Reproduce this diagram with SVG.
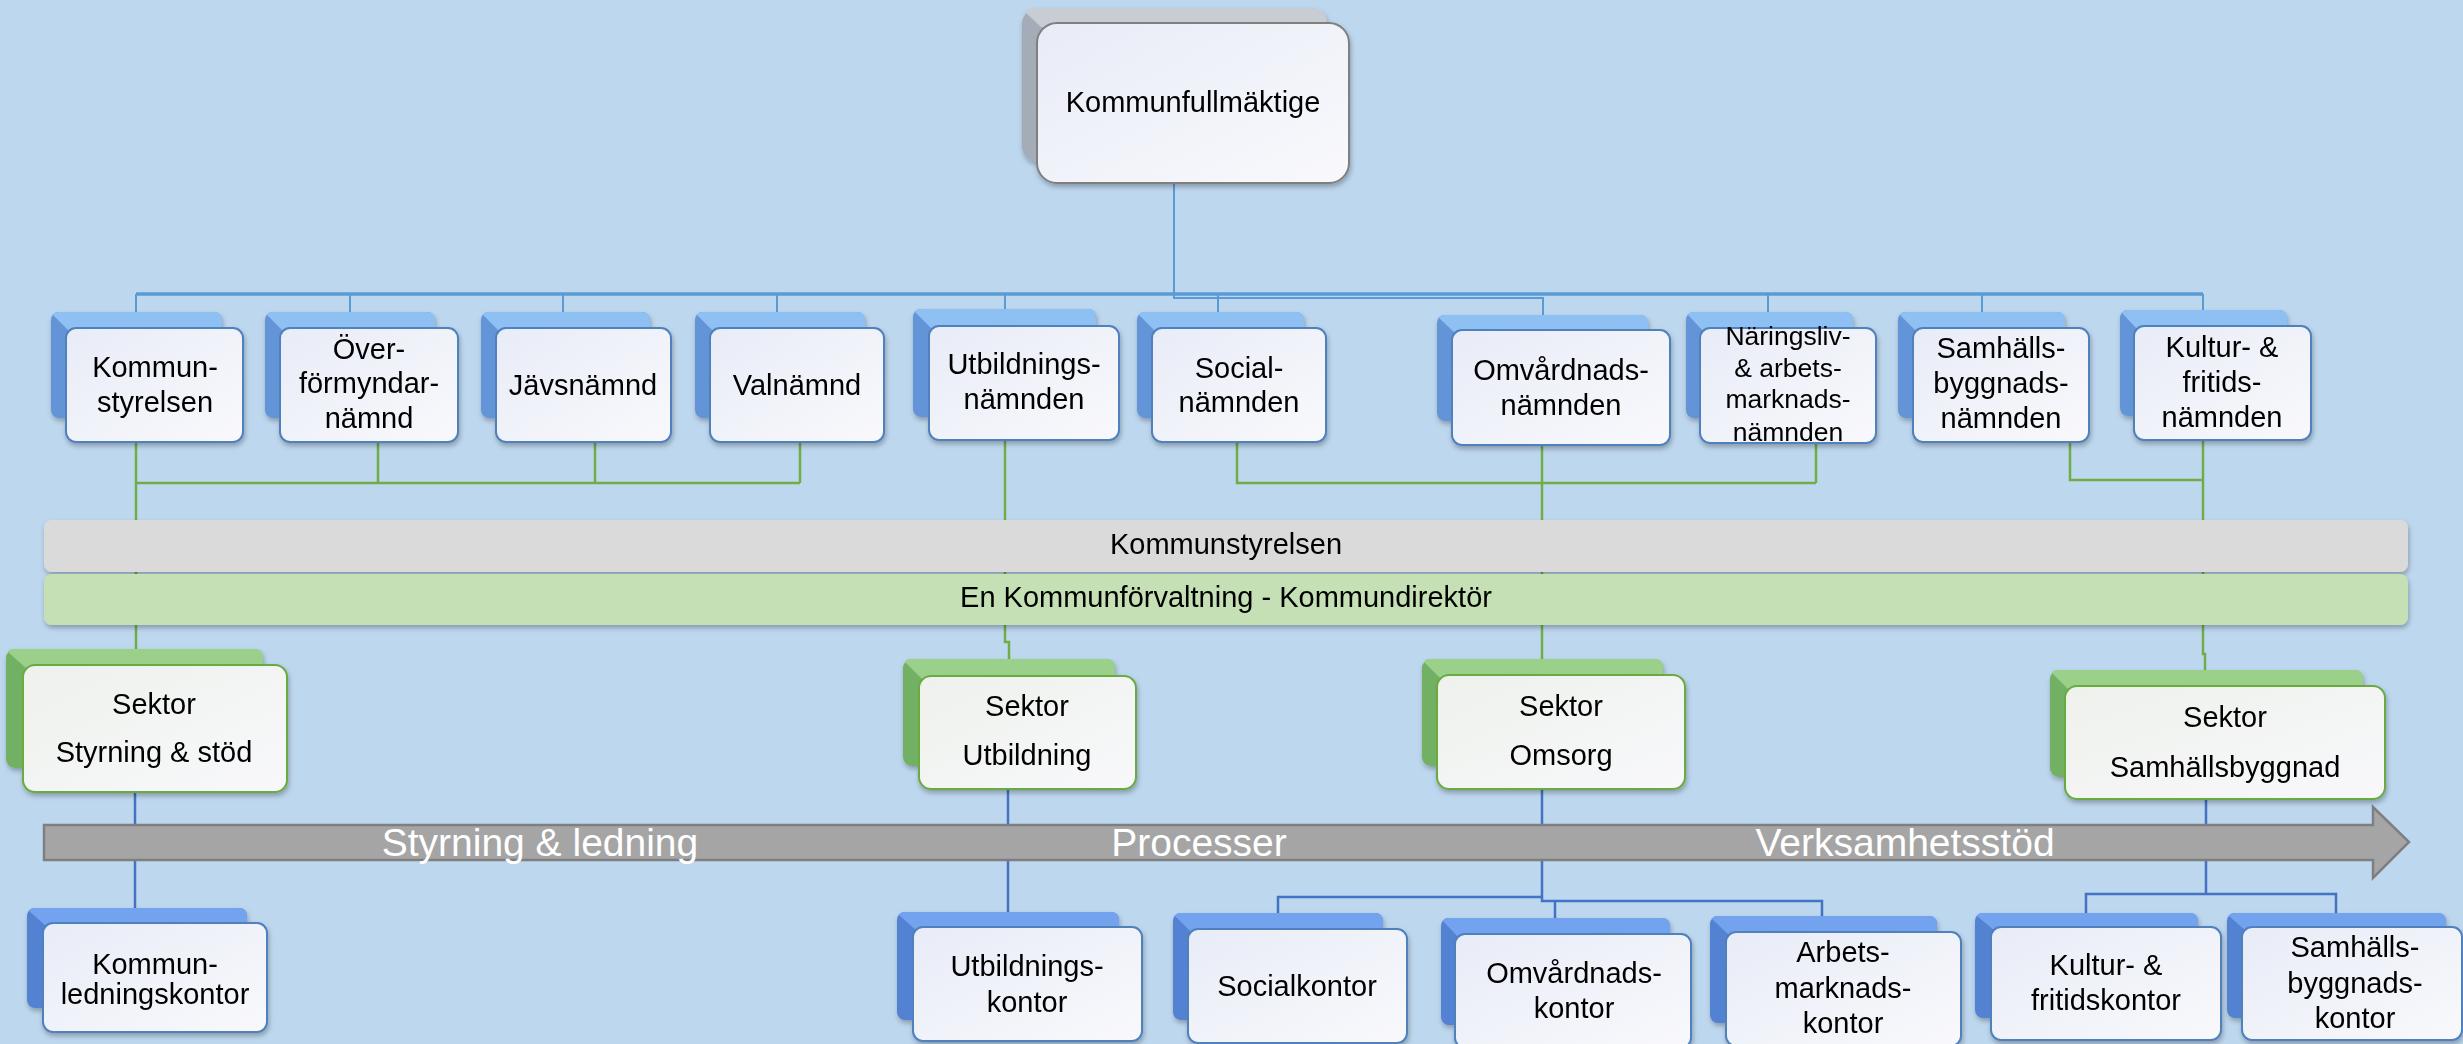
<svg xmlns="http://www.w3.org/2000/svg" width="2463" height="1044" viewBox="0 0 2463 1044">
<defs>
<style>
.t{font-family:"Liberation Sans",Arial,sans-serif;font-size:29px;fill:#000;text-anchor:middle}
.ts{font-size:26.5px}
.ta{font-family:"Liberation Sans",Arial,sans-serif;font-size:39px;fill:#fff;text-anchor:middle}
.cT{fill:none;stroke:#5B9BD5;stroke-width:2}
.cTm{fill:none;stroke:#5B9BD5;stroke-width:3.5}
.cG{fill:none;stroke:#70AD47;stroke-width:2.5}
.cB{fill:none;stroke:#4472C4;stroke-width:2.5}
.bkB{fill:#6394D8}
.bkBt{fill:#8EC0F4}
.bkD{fill:#5382D3}
.bkDt{fill:#73A3EE}
.bkG{fill:#72B163}
.bkGt{fill:#9BD08B}
.bkK{fill:#A4ACB8}
.bkKt{fill:#C8CDD4}
.frB{fill:url(#gF);stroke:#4F81BD;stroke-width:2}
.frG{fill:url(#gS);stroke:#6AAB40;stroke-width:2}
.frK{fill:url(#gF);stroke:#7F7F7F;stroke-width:2}
</style>
<linearGradient id="gF" x1="0" y1="0" x2="1" y2="1">
<stop offset="0" stop-color="#E8ECF7"/><stop offset="1" stop-color="#F9F9FC"/>
</linearGradient>
<linearGradient id="gS" x1="0" y1="0" x2="1" y2="1">
<stop offset="0" stop-color="#EEF1EC"/><stop offset="1" stop-color="#F8F8FB"/>
</linearGradient>
<filter id="sh" x="-10%" y="-10%" width="125%" height="135%">
<feDropShadow dx="1" dy="3" stdDeviation="2.5" flood-color="#000" flood-opacity="0.28"/>
</filter>
</defs>
<rect x="0" y="0" width="2463" height="1044" fill="#BDD7EE"/>

<g id="connectors">
<path class="cT" d="M1174,183 V298 H1543 V315"/>
<path class="cTm" d="M136,294 H2203"/>
<path class="cT" d="M136,294 V312 M350,294 V312 M563,294 V312 M777,294 V312 M1005,294 V309 M1218,294 V312 M1768,294 V312 M1982,294 V312 M2203,294 V310"/>
<path class="cG" d="M136,442 V649"/>
<path class="cG" d="M136,483 H800 M378,442 V483 M595,442 V483 M800,442 V483"/>
<path class="cG" d="M1005,440 V642 H1009 V659"/>
<path class="cG" d="M1237,442 V483 H1816 M1816,443 V483"/>
<path class="cG" d="M1542,445 V659"/>
<path class="cG" d="M2070,442 V480 H2203 M2203,440 V654 H2205 V670"/>
<path class="cB" d="M135,792 V908"/>
<path class="cB" d="M1008,789 V912"/>
<path class="cB" d="M1542,789 V897 H1278 V913 M1542,896 V901 H1822 V916 M1555,901 V918"/>
<path class="cB" d="M2206,799 V894 H2086 V913 M2206,894 H2336 V913"/>
</g>

<g id="bar-kommunstyrelsen" filter="url(#sh)">
<rect x="44" y="520" width="2364" height="52" rx="8" fill="#DADADA"/>
<text class="t" x="1226" y="554">Kommunstyrelsen</text>
</g>
<g id="bar-forvaltning" filter="url(#sh)">
<rect x="44" y="574" width="2364" height="51" rx="8" fill="#C5E0B4"/>
<text class="t" x="1226" y="607">En Kommunförvaltning - Kommundirektör</text>
</g>

<g id="process-arrow">
<polygon points="44,825 2373,825 2373,807 2409,842 2373,878 2373,860 44,860" fill="#A5A5A5" stroke="#7F7F7F" stroke-width="2.5"/>
<text class="ta" x="540" y="856">Styrning &amp; ledning</text>
<text class="ta" x="1199" y="856">Processer</text>
<text class="ta" x="1905" y="856">Verksamhetsstöd</text>
</g>

<g id="n-kommunfullmaktige" filter="url(#sh)">
<rect class="bkK" x="1022" y="8" width="305" height="154" rx="16"/>
<path class="bkKt" d="M1036,8 H1311 Q1327,8 1327,24 V27 H1041 L1025,12 Q1027,8 1036,8 Z"/>
<rect class="frK" x="1037" y="23" width="312" height="160" rx="20"/>
<text class="t" x="1193" y="112">Kommunfullmäktige</text>
</g>

<g id="n-kommunstyrelsen" filter="url(#sh)">
<rect class="bkB" x="51" y="312" width="171" height="106" rx="8"/>
<path class="bkBt" d="M59,312 H214 Q222,312 222,320 V332 H70 L53,315 Q54,312 59,312 Z"/>
<rect class="frB" x="66" y="328" width="177" height="114" rx="10"/>
<text class="t" x="155" y="377">Kommun-</text>
<text class="t" x="155" y="412">styrelsen</text>
</g>
<g id="n-overformyndar" filter="url(#sh)">
<rect class="bkB" x="265" y="312" width="170" height="106" rx="8"/>
<path class="bkBt" d="M273,312 H427 Q435,312 435,320 V332 H284 L267,315 Q268,312 273,312 Z"/>
<rect class="frB" x="280" y="328" width="178" height="114" rx="10"/>
<text class="t" x="369" y="359">Över-</text>
<text class="t" x="369" y="393">förmyndar-</text>
<text class="t" x="369" y="428">nämnd</text>
</g>
<g id="n-javsnamnd" filter="url(#sh)">
<rect class="bkB" x="481" y="312" width="169" height="106" rx="8"/>
<path class="bkBt" d="M489,312 H642 Q650,312 650,320 V332 H500 L483,315 Q484,312 489,312 Z"/>
<rect class="frB" x="496" y="328" width="175" height="114" rx="10"/>
<text class="t" x="583" y="395">Jävsnämnd</text>
</g>
<g id="n-valnamnd" filter="url(#sh)">
<rect class="bkB" x="695" y="312" width="170" height="106" rx="8"/>
<path class="bkBt" d="M703,312 H857 Q865,312 865,320 V332 H714 L697,315 Q698,312 703,312 Z"/>
<rect class="frB" x="710" y="328" width="174" height="114" rx="10"/>
<text class="t" x="797" y="395">Valnämnd</text>
</g>
<g id="n-utbildningsnamnden" filter="url(#sh)">
<rect class="bkB" x="913" y="309" width="183" height="108" rx="8"/>
<path class="bkBt" d="M921,309 H1088 Q1096,309 1096,317 V330 H933 L915,312 Q916,309 921,309 Z"/>
<rect class="frB" x="929" y="326" width="190" height="114" rx="10"/>
<text class="t" x="1024" y="374">Utbildnings-</text>
<text class="t" x="1024" y="409">nämnden</text>
</g>
<g id="n-socialnamnden" filter="url(#sh)">
<rect class="bkB" x="1137" y="312" width="167" height="106" rx="8"/>
<path class="bkBt" d="M1145,312 H1296 Q1304,312 1304,320 V332 H1156 L1139,315 Q1140,312 1145,312 Z"/>
<rect class="frB" x="1152" y="328" width="174" height="114" rx="10"/>
<text class="t" x="1239" y="378">Social-</text>
<text class="t" x="1239" y="412">nämnden</text>
</g>
<g id="n-omvardnadsnamnden" filter="url(#sh)">
<rect class="bkB" x="1437" y="315" width="211" height="106" rx="8"/>
<path class="bkBt" d="M1445,315 H1640 Q1648,315 1648,323 V334 H1456 L1439,318 Q1440,315 1445,315 Z"/>
<rect class="frB" x="1452" y="330" width="218" height="115" rx="10"/>
<text class="t" x="1561" y="380">Omvårdnads-</text>
<text class="t" x="1561" y="415">nämnden</text>
</g>
<g id="n-naringsliv" filter="url(#sh)">
<rect class="bkB" x="1686" y="312" width="167" height="106" rx="8"/>
<path class="bkBt" d="M1694,312 H1845 Q1853,312 1853,320 V332 H1704 L1688,315 Q1689,312 1694,312 Z"/>
<rect class="frB" x="1700" y="328" width="176" height="115" rx="10"/>
<text class="t ts" x="1788" y="345">Näringsliv-</text>
<text class="t ts" x="1788" y="377">&amp; arbets-</text>
<text class="t ts" x="1788" y="408">marknads-</text>
<text class="t ts" x="1788" y="441">nämnden</text>
</g>
<g id="n-samhallsbyggnadsnamnden" filter="url(#sh)">
<rect class="bkB" x="1898" y="312" width="167" height="106" rx="8"/>
<path class="bkBt" d="M1906,312 H2057 Q2065,312 2065,320 V332 H1917 L1900,315 Q1901,312 1906,312 Z"/>
<rect class="frB" x="1913" y="328" width="176" height="114" rx="10"/>
<text class="t" x="2001" y="358">Samhälls-</text>
<text class="t" x="2001" y="393">byggnads-</text>
<text class="t" x="2001" y="428">nämnden</text>
</g>
<g id="n-kulturnamnden" filter="url(#sh)">
<rect class="bkB" x="2120" y="310" width="167" height="106" rx="8"/>
<path class="bkBt" d="M2128,310 H2279 Q2287,310 2287,318 V330 H2138 L2122,313 Q2123,310 2128,310 Z"/>
<rect class="frB" x="2134" y="326" width="177" height="114" rx="10"/>
<text class="t" x="2222" y="357">Kultur- &amp;</text>
<text class="t" x="2222" y="392">fritids-</text>
<text class="t" x="2222" y="427">nämnden</text>
</g>

<g id="s-styrning" filter="url(#sh)">
<rect class="bkG" x="6" y="649" width="257" height="119" rx="9"/>
<path class="bkGt" d="M14,649 H255 Q263,649 263,657 V669 H27 L8,652 Q9,649 14,649 Z"/>
<rect class="frG" x="23" y="665" width="264" height="127" rx="12"/>
<text class="t" x="154" y="714">Sektor</text>
<text class="t" x="154" y="762">Styrning &amp; stöd</text>
</g>
<g id="s-utbildning" filter="url(#sh)">
<rect class="bkG" x="903" y="659" width="212" height="107" rx="9"/>
<path class="bkGt" d="M911,659 H1107 Q1115,659 1115,667 V680 H923 L905,662 Q906,659 911,659 Z"/>
<rect class="frG" x="919" y="676" width="217" height="113" rx="12"/>
<text class="t" x="1027" y="716">Sektor</text>
<text class="t" x="1027" y="765">Utbildning</text>
</g>
<g id="s-omsorg" filter="url(#sh)">
<rect class="bkG" x="1422" y="659" width="241" height="107" rx="9"/>
<path class="bkGt" d="M1430,659 H1655 Q1663,659 1663,667 V679 H1441 L1424,662 Q1425,659 1430,659 Z"/>
<rect class="frG" x="1437" y="675" width="248" height="114" rx="12"/>
<text class="t" x="1561" y="716">Sektor</text>
<text class="t" x="1561" y="765">Omsorg</text>
</g>
<g id="s-samhallsbyggnad" filter="url(#sh)">
<rect class="bkG" x="2050" y="670" width="313" height="107" rx="9"/>
<path class="bkGt" d="M2058,670 H2355 Q2363,670 2363,678 V690 H2069 L2052,673 Q2053,670 2058,670 Z"/>
<rect class="frG" x="2065" y="686" width="320" height="113" rx="12"/>
<text class="t" x="2225" y="727">Sektor</text>
<text class="t" x="2225" y="777">Samhällsbyggnad</text>
</g>

<g id="k-kommunledning" filter="url(#sh)">
<rect class="bkD" x="27" y="908" width="220" height="100" rx="8"/>
<path class="bkDt" d="M35,908 H239 Q247,908 247,916 V927 H47 L29,911 Q30,908 35,908 Z"/>
<rect class="frB" x="43" y="923" width="224" height="109" rx="10"/>
<text class="t" x="155" y="974">Kommun-</text>
<text class="t" x="155" y="1004">ledningskontor</text>
</g>
<g id="k-utbildning" filter="url(#sh)">
<rect class="bkD" x="897" y="912" width="222" height="108" rx="8"/>
<path class="bkDt" d="M905,912 H1111 Q1119,912 1119,920 V931 H917 L899,915 Q900,912 905,912 Z"/>
<rect class="frB" x="913" y="927" width="229" height="114" rx="10"/>
<text class="t" x="1027" y="976">Utbildnings-</text>
<text class="t" x="1027" y="1012">kontor</text>
</g>
<g id="k-social" filter="url(#sh)">
<rect class="bkD" x="1173" y="913" width="210" height="107" rx="8"/>
<path class="bkDt" d="M1181,913 H1375 Q1383,913 1383,921 V933 H1192 L1175,916 Q1176,913 1181,913 Z"/>
<rect class="frB" x="1188" y="929" width="219" height="114" rx="10"/>
<text class="t" x="1297" y="996">Socialkontor</text>
</g>
<g id="k-omvardnad" filter="url(#sh)">
<rect class="bkD" x="1441" y="918" width="229" height="107" rx="8"/>
<path class="bkDt" d="M1449,918 H1662 Q1670,918 1670,926 V938 H1459 L1443,921 Q1444,918 1449,918 Z"/>
<rect class="frB" x="1455" y="934" width="236" height="114" rx="10"/>
<text class="t" x="1574" y="983">Omvårdnads-</text>
<text class="t" x="1574" y="1018">kontor</text>
</g>
<g id="k-arbetsmarknad" filter="url(#sh)">
<rect class="bkD" x="1710" y="916" width="227" height="107" rx="8"/>
<path class="bkDt" d="M1718,916 H1929 Q1937,916 1937,924 V936 H1730 L1712,919 Q1713,916 1718,916 Z"/>
<rect class="frB" x="1726" y="932" width="235" height="114" rx="10"/>
<text class="t" x="1843" y="962">Arbets-</text>
<text class="t" x="1843" y="998">marknads-</text>
<text class="t" x="1843" y="1033">kontor</text>
</g>
<g id="k-kultur" filter="url(#sh)">
<rect class="bkD" x="1975" y="913" width="223" height="105" rx="8"/>
<path class="bkDt" d="M1983,913 H2190 Q2198,913 2198,921 V931 H1995 L1977,916 Q1978,913 1983,913 Z"/>
<rect class="frB" x="1991" y="927" width="230" height="113" rx="10"/>
<text class="t" x="2106" y="975">Kultur- &amp;</text>
<text class="t" x="2106" y="1010">fritidskontor</text>
</g>
<g id="k-samhallsbyggnad" filter="url(#sh)">
<rect class="bkD" x="2227" y="913" width="219" height="105" rx="8"/>
<path class="bkDt" d="M2235,913 H2438 Q2446,913 2446,921 V931 H2246 L2229,916 Q2230,913 2235,913 Z"/>
<rect class="frB" x="2242" y="927" width="220" height="113" rx="10"/>
<text class="t" x="2355" y="957">Samhälls-</text>
<text class="t" x="2355" y="993">byggnads-</text>
<text class="t" x="2355" y="1028">kontor</text>
</g>
</svg>
